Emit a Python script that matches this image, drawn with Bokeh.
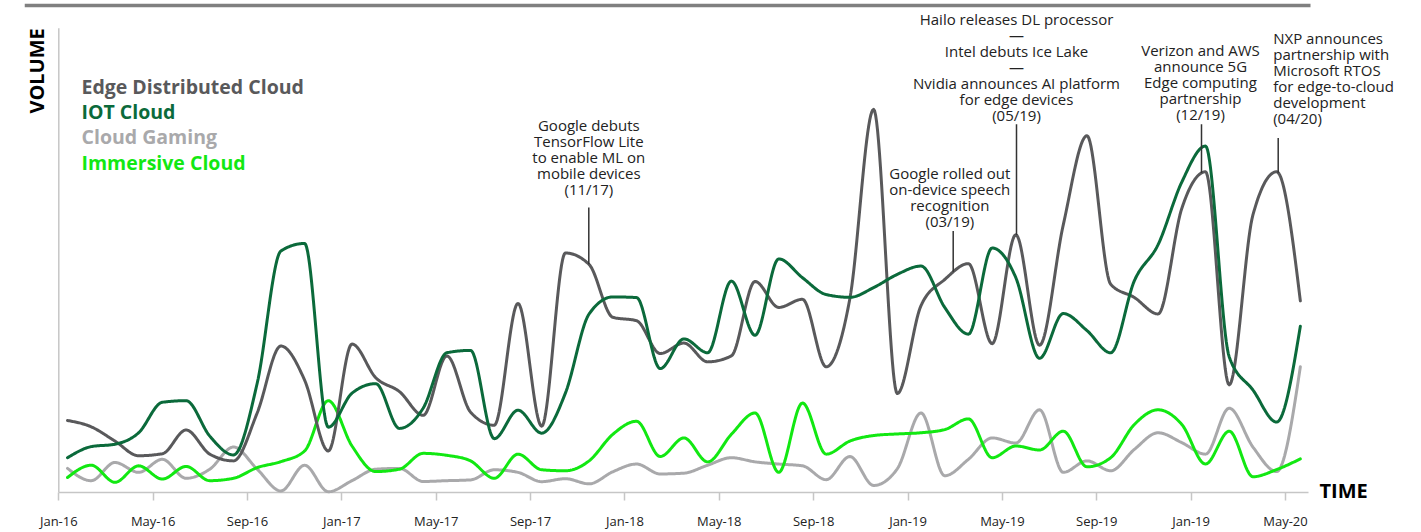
import numpy as np
from bokeh.plotting import figure
from bokeh.models import Range1d, FixedTicker
from bokeh.core.properties import value
from bokeh.embed import file_html
from bokeh.resources import INLINE

# ---------------- data ----------------
months = [f"{m}-{y}" for y in range(16, 21) for m in
          ["Jan", "Feb", "Mar", "Apr", "May", "Jun", "Jul", "Aug", "Sep", "Oct", "Nov", "Dec"]][:53]

tick_labels = ["Jan-16", "May-16", "Sep-16", "Jan-17", "May-17", "Sep-17", "Jan-18",
               "May-18", "Sep-18", "Jan-19", "May-19", "Sep-19", "Jan-19", "May-20"]

edge = [18.2, 16.6, 13.0, 9.3, 9.8, 15.8, 9.7, 8.0, 20.1, 37.0,
        28.4, 10.5, 37.5, 29.0, 25.5, 19.5, 34.5, 20.3, 17.0, 47.75,
        16.75, 60.5, 57.6, 44.25, 43.4, 35.1, 37.75, 33.0, 34.5, 53.3,
        46.75, 48.8, 31.75, 49.0, 96.75, 25.0, 47.2, 53.8, 57.8, 37.6,
        65.1, 37.2, 67.6, 90.1, 52.6, 49.25, 45.1, 71.75, 81.0, 27.2,
        70.1, 81.0, 48.4]

iot = [8.8, 11.6, 12.2, 15.1, 22.8, 23.2, 14.25, 9.5, 27.6, 61.0,
       62.9, 16.5, 25.1, 27.5, 16.2, 21.3, 35.3, 35.9, 13.6, 20.8,
       15.0, 25.1, 45.1, 49.4, 49.25, 31.3, 38.8, 35.3, 53.4, 39.7,
       59.0, 54.25, 50.0, 49.3, 51.75, 55.1, 57.2, 46.75, 40.0, 61.75,
       54.25, 33.9, 45.2, 40.9, 35.3, 53.5, 62.6, 78.4, 87.5, 34.25,
       25.9, 17.8, 42.0]

gaming = [6.1, 3.0, 7.6, 5.1, 8.4, 3.6, 5.9, 11.5, 5.9, 0.4,
          6.9, 0.2, 3.0, 5.9, 6.1, 2.8, 3.0, 3.2, 5.75, 5.1,
          2.75, 3.5, 2.2, 5.25, 7.2, 4.7, 4.9, 6.9, 8.8, 7.75,
          7.2, 6.75, 3.25, 9.1, 1.8, 6.0, 20.1, 4.25, 8.4, 13.8,
          12.5, 20.9, 5.1, 8.0, 5.5, 10.9, 15.1, 12.6, 9.7, 21.3,
          11.5, 5.3, 31.75]

immersive = [3.8, 6.9, 2.6, 6.75, 3.4, 6.6, 3.0, 3.6, 6.3, 7.8,
             10.5, 23.2, 11.75, 5.3, 5.9, 9.9, 9.4, 8.0, 3.6, 9.7,
             5.75, 5.5, 8.0, 14.7, 18.0, 9.1, 13.8, 7.75, 14.7, 20.1,
             5.1, 22.6, 9.7, 13.0, 14.4, 14.8, 15.1, 15.9, 18.6, 8.8,
             11.75, 10.75, 15.5, 6.5, 8.8, 17.2, 20.9, 17.2, 7.2, 15.5,
             4.0, 5.8, 8.5]

series_names = ["Edge Distributed Cloud", "IOT Cloud", "Cloud Gaming", "Immersive Cloud"]

events = [
    (["Google debuts", "TensorFlow Lite", "to enable ML on", "mobile devices", "(11/17)"], "Nov-17"),
    (["Google rolled out", "on-device speech", "recognition", "(03/19)"], "Mar-19"),
    (["Hailo releases DL processor", "\u2014", "Intel debuts Ice Lake", "\u2014",
      "Nvidia announces AI platform", "for edge devices", "(05/19)"], "May-19"),
    (["Verizon and AWS", "announce 5G", "Edge computing", "partnership", "(12/19)"], "Dec-19"),
    (["NXP announces", "partnership with", "Microsoft RTOS", "for edge-to-cloud",
      "development", "(04/20)"], "Apr-20"),
]

# ---------------- styling / layout ----------------
C_EDGE, C_IOT, C_GAME, C_IMM = "#59595b", "#0b6a3b", "#a9a9ab", "#12e812"
colors = [C_EDGE, C_IOT, C_GAME, C_IMM]
FONT = value("Open Sans")
AXIS_C = "#c6c6c6"

PX = 23.59          # pixels per month
X0 = 58.3           # screen x of Jan-16 tick
YB = 497.0          # screen y of value 0


def sx(px):         # screen x -> data x
    return (px - X0) / PX


def sy(py):         # screen y -> data y
    return (YB - py) / 4.0


xk = 0.37 + 1.005 * np.arange(len(months))


def monotone(x, y, n=24):
    x = np.asarray(x, float)
    y = np.asarray(y, float)
    h = np.diff(x)
    s = np.diff(y) / h
    m = np.zeros_like(y)
    for i in range(1, len(y) - 1):
        h0, h1 = h[i - 1], h[i]
        s0, s1 = s[i - 1], s[i]
        p = (s0 * h1 + s1 * h0) / (h0 + h1)
        m[i] = (np.sign(s0) + np.sign(s1)) * min(abs(s0), abs(s1), 0.5 * abs(p))
    m[0] = (3 * s[0] - m[1]) / 2
    m[-1] = (3 * s[-1] - m[-2]) / 2
    xs, ys = [], []
    t = np.linspace(0, 1, n, endpoint=False)
    h00 = 2 * t**3 - 3 * t**2 + 1
    h10 = t**3 - 2 * t**2 + t
    h01 = -2 * t**3 + 3 * t**2
    h11 = t**3 - t**2
    for i in range(len(y) - 1):
        xs.append(x[i] + t * h[i])
        ys.append(h00 * y[i] + h10 * h[i] * m[i] + h01 * y[i + 1] + h11 * h[i] * m[i + 1])
    xs.append([x[-1]])
    ys.append([y[-1]])
    return np.concatenate(xs), np.concatenate(ys)


p = figure(width=1421, height=532, output_backend="svg", toolbar_location=None,
           x_range=Range1d(sx(24), sx(1395)), y_range=Range1d(sy(503), sy(0)),
           y_axis_location=None, min_border_left=24, min_border_right=26,
           min_border_top=0, min_border_bottom=29)
p.outline_line_color = None
p.grid.visible = False
p.background_fill_color = "white"
p.border_fill_color = "white"

# x axis (ticks reach up to the value-0 line drawn below)
ax = p.xaxis[0]
ax.ticker = FixedTicker(ticks=list(range(0, 53, 4)))
ax.major_label_overrides = {t: lab for t, lab in zip(range(0, 53, 4), tick_labels)}
ax.bounds = (0, sx(1308))
ax.axis_line_color = None
ax.major_tick_line_color = AXIS_C
ax.major_tick_line_width = 1.5
ax.major_tick_out = 2
ax.major_tick_in = 6
ax.minor_tick_line_color = None
ax.major_label_text_font = "Open Sans"
ax.major_label_text_font_size = "13px"
ax.major_label_text_color = "#222222"
ax.major_label_standoff = 11

# axis lines
p.line([0, sx(1308)], [0, 0], line_color=AXIS_C, line_width=1.5)
p.line([0, 0], [0, sy(28)], line_color=AXIS_C, line_width=1.5)

# top bar
p.quad(left=[sx(24)], right=[sx(1310)], bottom=[sy(6.8)], top=[sy(3.2)],
       fill_color="#808080", line_color=None)

# series
curves = {}
for name, vals in zip(series_names, [edge, iot, gaming, immersive]):
    curves[name] = monotone(xk, vals)
for name, col in zip(["Cloud Gaming", "Immersive Cloud", "Edge Distributed Cloud", "IOT Cloud"],
                     [C_GAME, C_IMM, C_EDGE, C_IOT]):
    cx, cy = curves[name]
    p.line(cx, cy, line_color=col, line_width=3, line_join="round", line_cap="round")

# legend text
leg_y = [86.7, 112.5, 137.5, 163.3]
for name, col, ly in zip(series_names, colors, leg_y):
    p.text(x=[sx(81)], y=[sy(ly)], text=[name], text_color=col, text_font=FONT,
           text_font_style="bold", text_font_size="19.5px", text_baseline="middle",
           text_align="left")

# axis titles
p.text(x=[sx(35.5)], y=[sy(28)], text=["VOLUME"], angle=np.pi / 2, text_color="black",
       text_font=FONT, text_font_style="bold", text_font_size="20px",
       text_baseline="middle", text_align="right")
p.text(x=[sx(1319)], y=[sy(494.5)], text=["TIME"], text_color="black",
       text_font=FONT, text_font_style="bold", text_font_size="20px",
       text_baseline="middle", text_align="left")

# event annotations
ev_layout = [  # text x (screen), first line y, align, leader x, leader top
    (588.3, 126.0, "center", 588.3, 209.0),
    (949.3, 174.0, "center", 952.7, 232.7),
    (1016.0, 19.0, "center", 1016.0, 125.0),
    (1200.0, 50.0, "center", 1201.0, 125.0),
    (1272.7, 38.3, "left", 1277.7, 139.0),
]
ex, ey = curves["Edge Distributed Cloud"]
for (lines, _), (tx, ty0, al, lx, ltop) in zip(events, ev_layout):
    ys = [sy(ty0 + 16.1 * i) for i in range(len(lines))]
    p.text(x=[sx(tx)] * len(lines), y=ys, text=lines, text_color="#222222",
           text_font=FONT, text_font_size="15px", text_baseline="middle",
           text_align=al)
    bottom = float(np.interp(sx(lx), ex, ey))
    p.line([sx(lx), sx(lx)], [sy(ltop), bottom], line_color="#333333", line_width=1.5)

open("out.html", "w").write(file_html(p, INLINE))
